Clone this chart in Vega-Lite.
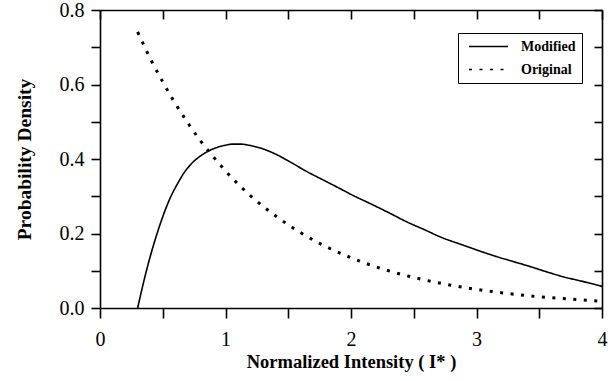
{
  "$schema": "https://vega.github.io/schema/vega-lite/v6.json",
  "width": 502,
  "height": 298,
  "autosize": {"type": "none"},
  "padding": {"left": 100, "top": 10, "right": 13, "bottom": 73},
  "background": "white",
  "config": {
    "view": {"stroke": null},
    "font": "Liberation Serif",
    "axis": {
      "labelFont": "Liberation Serif",
      "labelFontSize": 20,
      "labelColor": "black",
      "titleFont": "Liberation Serif",
      "titleFontWeight": "bold",
      "titleColor": "black",
      "domainColor": "black",
      "domainWidth": 1.6,
      "tickColor": "black",
      "tickWidth": 1.6,
      "grid": false
    },
    "legend": {
      "labelFont": "Liberation Serif",
      "labelFontSize": 14,
      "labelFontWeight": "bold",
      "labelColor": "black"
    }
  },
  "data": {
    "values": [
      {"series": "Modified", "x": 0.30, "y": 0.0},
      {"series": "Modified", "x": 0.345, "y": 0.066},
      {"series": "Modified", "x": 0.40, "y": 0.138},
      {"series": "Modified", "x": 0.45, "y": 0.195},
      {"series": "Modified", "x": 0.50, "y": 0.245},
      {"series": "Modified", "x": 0.56, "y": 0.296},
      {"series": "Modified", "x": 0.62, "y": 0.335},
      {"series": "Modified", "x": 0.66, "y": 0.358},
      {"series": "Modified", "x": 0.73, "y": 0.388},
      {"series": "Modified", "x": 0.80, "y": 0.408},
      {"series": "Modified", "x": 0.90, "y": 0.427},
      {"series": "Modified", "x": 1.00, "y": 0.437},
      {"series": "Modified", "x": 1.06, "y": 0.440},
      {"series": "Modified", "x": 1.12, "y": 0.440},
      {"series": "Modified", "x": 1.20, "y": 0.436},
      {"series": "Modified", "x": 1.30, "y": 0.427},
      {"series": "Modified", "x": 1.40, "y": 0.413},
      {"series": "Modified", "x": 1.50, "y": 0.395},
      {"series": "Modified", "x": 1.65, "y": 0.366},
      {"series": "Modified", "x": 1.80, "y": 0.340},
      {"series": "Modified", "x": 1.91, "y": 0.321},
      {"series": "Modified", "x": 2.00, "y": 0.305},
      {"series": "Modified", "x": 2.18, "y": 0.276},
      {"series": "Modified", "x": 2.30, "y": 0.256},
      {"series": "Modified", "x": 2.44, "y": 0.232},
      {"series": "Modified", "x": 2.60, "y": 0.208},
      {"series": "Modified", "x": 2.71, "y": 0.191},
      {"series": "Modified", "x": 2.90, "y": 0.168},
      {"series": "Modified", "x": 3.00, "y": 0.156},
      {"series": "Modified", "x": 3.16, "y": 0.138},
      {"series": "Modified", "x": 3.30, "y": 0.124},
      {"series": "Modified", "x": 3.43, "y": 0.111},
      {"series": "Modified", "x": 3.55, "y": 0.098},
      {"series": "Modified", "x": 3.69, "y": 0.084},
      {"series": "Modified", "x": 3.85, "y": 0.071},
      {"series": "Modified", "x": 4.00, "y": 0.058},
      {"series": "Original", "x": 0.30, "y": 0.741},
      {"series": "Original", "x": 0.40, "y": 0.670},
      {"series": "Original", "x": 0.50, "y": 0.607},
      {"series": "Original", "x": 0.60, "y": 0.549},
      {"series": "Original", "x": 0.70, "y": 0.497},
      {"series": "Original", "x": 0.80, "y": 0.449},
      {"series": "Original", "x": 0.90, "y": 0.407},
      {"series": "Original", "x": 1.00, "y": 0.368},
      {"series": "Original", "x": 1.20, "y": 0.301},
      {"series": "Original", "x": 1.40, "y": 0.247},
      {"series": "Original", "x": 1.60, "y": 0.202},
      {"series": "Original", "x": 1.80, "y": 0.165},
      {"series": "Original", "x": 2.00, "y": 0.135},
      {"series": "Original", "x": 2.25, "y": 0.105},
      {"series": "Original", "x": 2.50, "y": 0.082},
      {"series": "Original", "x": 2.75, "y": 0.064},
      {"series": "Original", "x": 3.00, "y": 0.050},
      {"series": "Original", "x": 3.25, "y": 0.039},
      {"series": "Original", "x": 3.50, "y": 0.030},
      {"series": "Original", "x": 3.75, "y": 0.024},
      {"series": "Original", "x": 4.00, "y": 0.018}
    ]
  },
  "layer": [
    {
      "transform": [{"filter": "datum.series === 'Modified'"}],
      "mark": {"type": "line", "color": "black", "strokeWidth": 1.6, "interpolate": "monotone"},
      "encoding": {
        "x": {
          "field": "x", "type": "quantitative",
          "scale": {"domain": [0, 4], "nice": false, "zero": false},
          "axis": {
            "orient": "bottom",
            "values": [0, 0.5, 1, 1.5, 2, 2.5, 3, 3.5, 4],
            "tickSize": 10,
            "labelExpr": "datum.value % 1 === 0 ? format(datum.value, 'd') : ''",
            "labelPadding": 11,
            "labelFlush": false,
            "title": "Normalized Intensity ( I* )",
            "titleFontSize": 18.5,
            "titlePadding": 3
          }
        },
        "y": {
          "field": "y", "type": "quantitative",
          "scale": {"domain": [0, 0.8], "nice": false},
          "axis": {
            "orient": "left",
            "values": [0, 0.1, 0.2, 0.3, 0.4, 0.5, 0.6, 0.7, 0.8],
            "tickSize": 9,
            "labelExpr": "round(datum.value * 10) % 2 === 0 ? format(datum.value, '.1f') : ''",
            "labelPadding": 7,
            "labelFlush": false,
            "title": "Probability Density",
            "titleFontSize": 19.5,
            "titlePadding": 25
          }
        },
        "strokeDash": {
          "field": "series", "type": "nominal",
          "scale": {"domain": ["Modified", "Original"], "range": [[1, 0], [3, 7.5]]},
          "legend": {
            "title": null,
            "orient": "none",
            "legendX": 358,
            "legendY": 23,
            "strokeColor": "black",
            "padding": 6,
            "symbolType": "M-3,0H3",
            "symbolSize": 169,
            "symbolOffset": 17,
            "symbolStrokeWidth": 1.6,
            "symbolStrokeColor": "black",
            "labelOffset": 25,
            "rowPadding": 8
          }
        }
      }
    },
    {
      "transform": [{"filter": "datum.series === 'Original'"}],
      "mark": {"type": "line", "color": "black", "strokeWidth": 3, "interpolate": "monotone"},
      "encoding": {
        "x": {
          "field": "x", "type": "quantitative",
          "scale": {"domain": [0, 4], "nice": false, "zero": false},
          "axis": {
            "orient": "top",
            "values": [0, 0.5, 1, 1.5, 2, 2.5, 3, 3.5, 4],
            "tickSize": -9,
            "labels": false,
            "title": null
          }
        },
        "y": {
          "field": "y", "type": "quantitative",
          "scale": {"domain": [0, 0.8], "nice": false},
          "axis": {
            "orient": "right",
            "values": [0, 0.1, 0.2, 0.3, 0.4, 0.5, 0.6, 0.7, 0.8],
            "tickSize": -8,
            "labels": false,
            "title": null
          }
        },
        "strokeDash": {"field": "series", "type": "nominal"}
      }
    }
  ],
  "resolve": {"axis": {"x": "independent", "y": "independent"}}
}
